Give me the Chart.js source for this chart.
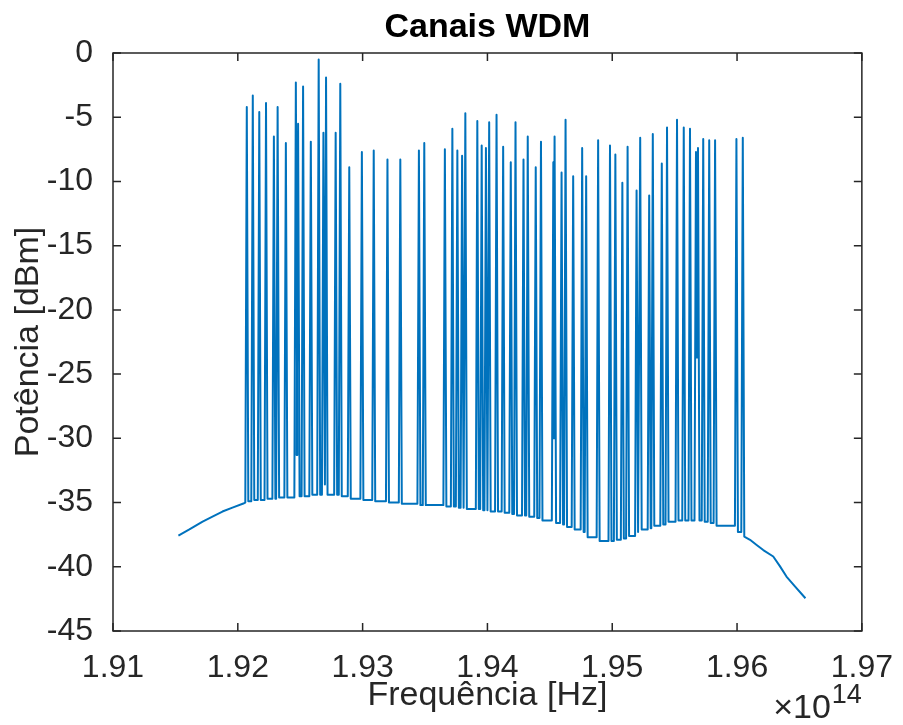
<!DOCTYPE html>
<html lang="pt-br">
<head>
<meta charset="UTF-8">
<title>Canais WDM</title>
<script src="https://cdn.jsdelivr.net/npm/chart.js"></script>
<style>
  html, body { margin: 0; padding: 0; background: #fff; }
</style>
</head>
<body>
<canvas id="grafico" width="903" height="725"></canvas>

<script>
// frequência central de cada canal (x10^14 Hz)
const canalFreq = [
  1.92072, 1.92120, 1.92172, 1.92226, 1.92289, 1.92319, 1.92385, 1.92465, 1.92483, 1.92523,
  1.92585, 1.92648, 1.92686, 1.92707, 1.92784, 1.92821, 1.92893, 1.92994, 1.93089, 1.93199,
  1.93302, 1.93451, 1.93494, 1.93659, 1.93719, 1.93759, 1.93797, 1.93823, 1.93919, 1.93954,
  1.93988, 1.94014, 1.94073, 1.94126, 1.94187, 1.94225, 1.94289, 1.94323, 1.94387, 1.94429,
  1.94528, 1.94538, 1.94594, 1.94626, 1.94687, 1.94759, 1.94791, 1.94887, 1.94982, 1.95025,
  1.95081, 1.95123, 1.95195, 1.95224, 1.95296, 1.95325, 1.95397, 1.95439, 1.95519, 1.95573,
  1.95623, 1.95671, 1.95687, 1.95729, 1.95777, 1.95824, 1.95995, 1.96046
];
// potência de pico de cada canal (dBm)
const canalPico = [
  -4.2, -3.3, -4.6, -3.9, -6.5, -4.2, -7.0, -2.3, -5.5, -2.6,
  -6.9, -0.5, -6.2, -1.9, -6.2, -2.4, -8.9, -7.7, -7.6, -8.3,
  -8.3, -7.6, -7.0, -7.5, -5.9, -7.6, -8.0, -4.7, -5.3, -7.2,
  -7.4, -5.4, -4.8, -7.3, -8.5, -5.4, -8.3, -6.5, -8.9, -6.9,
  -8.5, -6.5, -9.3, -5.2, -9.6, -7.4, -9.6, -6.8, -7.2, -7.9,
  -10.1, -7.3, -10.7, -6.6, -11.1, -6.3, -8.6, -5.8, -5.2, -5.8,
  -5.9, -7.7, -7.4, -6.7, -6.8, -6.8, -6.7, -6.6
];
// nível do ruído (ASE) antes, entre e depois dos canais (dBm)
const vale = [
  -35.0, -34.9, -34.8, -34.8, -34.7, -34.7, -34.6, -34.6, -31.3, -34.5,
  -34.5, -34.4, -34.4, -33.6, -34.4, -34.4, -34.5, -34.7, -34.8, -34.9,
  -35.0, -35.1, -35.2, -35.2, -35.3, -35.3, -35.4, -35.4, -35.5, -35.5,
  -35.6, -35.6, -35.7, -35.7, -35.8, -35.9, -36.0, -36.0, -36.1, -36.2,
  -36.4, -30.0, -36.6, -36.7, -36.9, -37.1, -37.3, -37.7, -38.0, -38.0,
  -37.9, -37.8, -37.6, -37.3, -37.1, -37.0, -36.8, -36.7, -36.5, -36.4,
  -36.4, -36.4, -23.7, -36.4, -36.5, -36.6, -36.8, -37.3, -37.65
];
// bordas do espectro fora da banda dos canais
const bordaEsqFreq = [1.91524, 1.91612, 1.91718, 1.91797, 1.91877, 1.91957, 1.92050];
const bordaEsqDb = [-37.57, -37.09, -36.48, -36.10, -35.70, -35.39, -35.05];
const bordaDirFreq = [1.96104, 1.96157, 1.96210, 1.96290, 1.96343, 1.96396, 1.96462, 1.96548];
const bordaDirDb = [-37.90, -38.30, -38.70, -39.20, -39.95, -40.76, -41.50, -42.45];

const xTicks = [1.91, 1.92, 1.93, 1.94, 1.95, 1.96, 1.97];
const yTicks = [0, -5, -10, -15, -20, -25, -30, -35, -40, -45];

const meiaLargura = 0.00012; // meia largura da base de cada pico

// monta o traço do espectro
const pontos = [];
bordaEsqFreq.forEach((f, i) => pontos.push({ x: f, y: bordaEsqDb[i] }));
canalFreq.forEach((f, i) => {
  pontos.push({ x: f - meiaLargura, y: vale[i] });
  pontos.push({ x: f, y: canalPico[i] });
  pontos.push({ x: f + meiaLargura, y: vale[i + 1] });
});
bordaDirFreq.forEach((f, i) => pontos.push({ x: f, y: bordaDirDb[i] }));

const corEixo = '#262626';
const fonte = 'Liberation Sans, Arial, Helvetica, sans-serif';

// caixa com marcas para dentro, estilo MATLAB, título e o "x10^14"
const caixaMatlab = {
  id: 'caixaMatlab',
  afterDraw(chart) {
    const { ctx, chartArea: a, scales } = chart;
    const tam = 8;
    ctx.save();
    ctx.strokeStyle = corEixo;
    ctx.lineWidth = 1.5;
    ctx.beginPath();
    xTicks.forEach(v => {
      const px = scales.x.getPixelForValue(v);
      ctx.moveTo(px, a.bottom); ctx.lineTo(px, a.bottom - tam);
      ctx.moveTo(px, a.top); ctx.lineTo(px, a.top + tam);
    });
    yTicks.forEach(v => {
      const py = scales.y.getPixelForValue(v);
      ctx.moveTo(a.left, py); ctx.lineTo(a.left + tam, py);
      ctx.moveTo(a.right, py); ctx.lineTo(a.right - tam, py);
    });
    ctx.stroke();
    ctx.strokeRect(a.left, a.top, a.right - a.left, a.bottom - a.top);

    // título centrado sobre a área do gráfico
    ctx.fillStyle = '#000';
    ctx.font = 'bold 34px ' + fonte;
    ctx.textAlign = 'center';
    ctx.textBaseline = 'middle';
    ctx.fillText('Canais WDM', (a.left + a.right) / 2, 28);

    ctx.fillStyle = corEixo;
    ctx.textBaseline = 'alphabetic';
    ctx.textAlign = 'left';
    ctx.font = '27px ' + fonte;
    const wExp = ctx.measureText('14').width;
    const xExp = a.right - wExp;
    ctx.fillText('14', xExp, 703);
    ctx.font = '34px ' + fonte;
    ctx.textAlign = 'right';
    ctx.fillText('\u00d710', xExp - 1, 718);
    ctx.restore();
  }
};

new Chart(document.getElementById('grafico'), {
  type: 'line',
  data: {
    datasets: [{
      data: pontos,
      borderColor: '#0072BD',
      borderWidth: 2,
      borderJoinStyle: 'round',
      pointRadius: 0,
      tension: 0,
      fill: false
    }]
  },
  options: {
    responsive: false,
    animation: false,
    layout: { padding: { top: 53, right: 37 } },
    plugins: {
      legend: { display: false },
      tooltip: { enabled: false },
      title: { display: false }
    },
    scales: {
      x: {
        type: 'linear',
        min: 1.91,
        max: 1.97,
        afterBuildTicks: s => { s.ticks = xTicks.map(v => ({ value: v })); },
        afterFit: s => { s.height = 94; },
        grid: { display: false },
        border: { display: false },
        ticks: {
          color: corEixo,
          padding: 10,
          maxRotation: 0,
          font: { family: fonte, size: 32 },
          callback: v => v.toFixed(2)
        },
        title: {
          display: true,
          text: 'Frequência [Hz]',
          color: corEixo,
          font: { family: fonte, size: 34 },
          padding: { top: 0, bottom: 9 }
        }
      },
      y: {
        min: -45,
        max: 0,
        afterBuildTicks: s => { s.ticks = yTicks.map(v => ({ value: v })); },
        afterFit: s => { s.width = 113; },
        grid: { display: false },
        border: { display: false },
        ticks: {
          color: corEixo,
          padding: 12,
          font: { family: fonte, size: 32 },
          callback: v => String(v)
        },
        title: {
          display: true,
          text: 'Potência [dBm]',
          color: corEixo,
          font: { family: fonte, size: 34 },
          padding: { top: 8, bottom: 0 }
        }
      }
    }
  },
  plugins: [caixaMatlab]
});
</script>
</body>
</html>
